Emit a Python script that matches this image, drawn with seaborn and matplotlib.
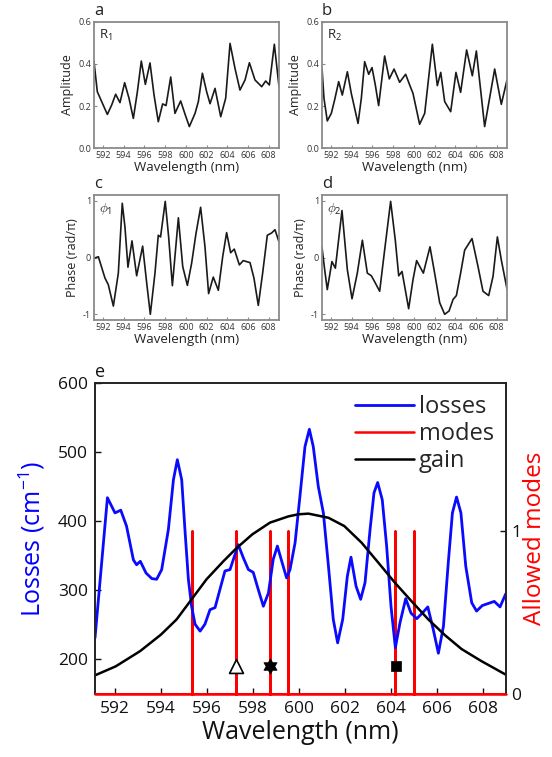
import numpy as np
import pandas as pd
import matplotlib
matplotlib.use("Agg")
import matplotlib.pyplot as plt
import seaborn as sns

# ---------------- data ----------------
r1_wl = [591.13, 591.45, 591.87, 592.42, 592.84, 593.22, 593.64, 594.09, 594.51, 594.93,
         595.32, 595.70, 596.09, 596.54, 596.93, 597.34, 597.76, 598.09, 598.54, 598.95,
         599.50, 599.95, 600.34, 600.89, 601.21, 601.60, 602.01, 602.34, 602.82, 603.37,
         603.85, 604.27, 604.75, 605.23, 605.72, 606.14, 606.68, 607.33, 607.71, 608.07,
         608.55, 609.00]
r1_amp = [0.411, 0.268, 0.221, 0.160, 0.205, 0.256, 0.216, 0.311, 0.237, 0.141,
          0.268, 0.414, 0.303, 0.405, 0.252, 0.125, 0.210, 0.202, 0.338, 0.165,
          0.224, 0.157, 0.102, 0.165, 0.221, 0.356, 0.268, 0.211, 0.284, 0.149,
          0.237, 0.498, 0.379, 0.276, 0.324, 0.406, 0.324, 0.292, 0.319, 0.300,
          0.494, 0.292]

r2_wl = [591.13, 591.32, 591.64, 592.03, 592.35, 592.74, 593.09, 593.58, 593.96, 594.61,
         594.93, 595.25, 595.64, 595.96, 596.28, 596.60, 597.18, 597.63, 598.09, 598.63,
         599.21, 599.60, 599.92, 600.56, 601.05, 601.79, 602.27, 602.60, 602.98, 603.56,
         604.07, 604.52, 605.10, 605.65, 606.04, 606.84, 607.81, 608.45, 609.00]
r2_amp = [0.379, 0.237, 0.129, 0.165, 0.229, 0.316, 0.252, 0.363, 0.260, 0.117,
          0.237, 0.411, 0.351, 0.383, 0.300, 0.202, 0.438, 0.329, 0.376, 0.313,
          0.351, 0.300, 0.260, 0.113, 0.165, 0.494, 0.297, 0.360, 0.221, 0.173,
          0.360, 0.265, 0.467, 0.344, 0.462, 0.102, 0.376, 0.208, 0.324]

p1_wl = [591.13, 591.55, 592.19, 592.51, 593.00, 593.48, 593.86, 594.12, 594.41, 594.80,
         595.25, 595.83, 596.22, 596.57, 597.02, 597.34, 597.56, 598.01, 598.34, 598.70,
         599.28, 599.70, 600.15, 600.56, 600.98, 601.43, 601.85, 602.20, 602.65, 603.14,
         603.56, 603.94, 604.33, 604.68, 605.17, 605.55, 606.20, 606.58, 607.00, 607.42,
         607.87, 608.29, 608.61, 609.00]
p1_ph = [-0.014, 0.014, -0.362, -0.478, -0.855, -0.275, 0.954, 0.536, -0.171, 0.293,
         -0.322, 0.200, -0.449, -1.000, -0.275, 0.391, 0.362, 0.988, 0.362, -0.496,
         0.699, -0.159, -0.490, -0.101, 0.420, 0.884, 0.188, -0.635, -0.345, -0.577,
         0.014, 0.438, 0.084, 0.148, -0.130, -0.055, -0.090, -0.362, -0.843, -0.275,
         0.391, 0.432, 0.490, 0.275]

p2_wl = [591.13, 591.39, 591.64, 592.09, 592.42, 593.06, 593.58, 594.03, 594.54, 595.03,
         595.51, 595.90, 596.28, 596.70, 597.18, 597.76, 598.21, 598.54, 598.86, 599.50,
         599.92, 600.27, 600.92, 601.56, 602.01, 602.50, 602.98, 603.40, 603.79, 604.11,
         604.52, 604.91, 605.62, 606.20, 606.68, 607.23, 607.65, 608.07, 608.45, 609.00]
p2_ph = [0.177, -0.217, -0.565, -0.072, -0.188, 0.826, -0.217, -0.727, -0.275, 0.304,
         -0.275, -0.322, -0.449, -0.594, 0.130, 0.988, 0.304, -0.322, -0.246, -0.901,
         -0.391, -0.055, -0.275, 0.188, -0.275, -0.797, -1.000, -0.942, -0.739, -0.670,
         -0.275, 0.130, 0.333, -0.159, -0.594, -0.670, -0.333, 0.362, -0.043, -0.553]

loss_wl = [591.13, 591.67, 592.00, 592.25, 592.50, 592.80, 592.94, 593.10, 593.35, 593.60,
           593.81, 594.03, 594.32, 594.54, 594.71, 594.90, 595.04, 595.19, 595.33, 595.48,
           595.70, 595.91, 596.13, 596.35, 596.56, 596.78, 597.00, 597.19, 597.36, 597.58,
           597.80, 598.01, 598.23, 598.45, 598.67, 598.88, 599.06, 599.25, 599.46, 599.61,
           599.83, 600.04, 600.26, 600.45, 600.62, 600.84, 601.06, 601.28, 601.49, 601.68,
           601.90, 602.10, 602.26, 602.48, 602.68, 602.87, 603.09, 603.26, 603.42, 603.62,
           603.81, 604.00, 604.19, 604.39, 604.64, 604.87, 605.12, 605.36, 605.60, 605.84,
           606.06, 606.28, 606.49, 606.67, 606.85, 607.04, 607.25, 607.51, 607.72, 607.97,
           608.23, 608.49, 608.74, 608.99]
loss_val = [231, 434, 412, 416, 393, 344, 337, 342, 325, 317,
            316, 330, 388, 460, 489, 460, 388, 316, 277, 251,
            241, 251, 272, 275, 301, 328, 330, 349, 366, 347,
            330, 326, 301, 277, 296, 345, 364, 342, 318, 330,
            369, 436, 508, 533, 508, 450, 412, 335, 258, 224,
            258, 320, 348, 306, 287, 311, 388, 441, 456, 431,
            364, 277, 217, 253, 288, 267, 259, 267, 276, 243,
            209, 248, 340, 412, 435, 412, 335, 282, 270, 278,
            281, 284, 276, 295]

gain_wl = [591.13, 592.03, 593.09, 594.00, 594.68, 595.33, 595.98, 596.71, 597.25, 597.97,
           598.74, 599.54, 599.97, 600.41, 601.28, 601.97, 602.72, 603.45, 604.17, 604.90,
           605.62, 606.35, 607.07, 607.91, 608.99]
gain_val = [177, 190, 212, 236, 258, 287, 316, 342, 360, 381,
            398, 407, 410, 411, 405, 393, 369, 340, 311, 284,
            258, 235, 215, 198, 178]

mode_wl = [595.33, 597.26, 598.74, 599.54, 604.19, 604.99]

marker_wl = [597.26, 598.74, 604.22]
marker_val = [191, 191, 191]

xticks = [592, 594, 596, 598, 600, 602, 604, 606, 608]
XLIM = (591.13, 609.0)

# ---------------- style ----------------
sns.set_style("ticks")
plt.rcParams['font.family'] = ['Open Sans', 'DejaVu Sans']
plt.rcParams['mathtext.fontset'] = 'custom'
plt.rcParams['mathtext.rm'] = 'Open Sans'
plt.rcParams['mathtext.it'] = 'Open Sans'

W, H = 552, 757
fig = plt.figure(figsize=(W / 100, H / 100), dpi=100)


def frac(x0, y0, x1, y1):
    return [x0 / W, 1 - y1 / H, (x1 - x0) / W, (y1 - y0) / H]


gray = '#8a8a8a'


def small_panel(rect, wl, vals, letter, tag, ylabel, ylim, yticks, yticklabels):
    ax = fig.add_axes(frac(*rect))
    sns.lineplot(x=wl, y=vals, ax=ax, color='#1a1a1a', lw=1.2, sort=False, estimator=None)
    ax.set_xlim(*XLIM)
    ax.set_ylim(*ylim)
    ax.set_xticks(xticks)
    ax.set_yticks(yticks)
    ax.set_yticklabels(yticklabels)
    for s in ax.spines.values():
        s.set_color(gray)
        s.set_linewidth(1.3)
    ax.tick_params(direction='in', length=2, width=0.8, color=gray,
                   labelsize=6.5, labelcolor='#333333', pad=2)
    ax.set_xlabel('Wavelength (nm)', fontsize=9.5, color='#222222', labelpad=1)
    ax.set_ylabel(ylabel, fontsize=9, color='#222222', labelpad=3)
    ax.text(0.0, 1.02, letter, transform=ax.transAxes, fontsize=12,
            ha='left', va='bottom', color='#222222')
    ax.text(0.025, 0.95, tag, transform=ax.transAxes, fontsize=9.5,
            ha='left', va='top', color='#222222')
    return ax


small_panel((94, 22, 279, 148), r1_wl, r1_amp, 'a', r'R$_1$', 'Amplitude',
            (0, 0.6), [0, 0.2, 0.4, 0.6], ['0.0', '0.2', '0.4', '0.6'])
small_panel((322, 22, 507, 148), r2_wl, r2_amp, 'b', r'R$_2$', 'Amplitude',
            (0, 0.6), [0, 0.2, 0.4, 0.6], ['0.0', '0.2', '0.4', '0.6'])
small_panel((94, 195, 279, 320), p1_wl, p1_ph, 'c', r'$\phi_1$', 'Phase (rad/\u03c0)',
            (-1.1, 1.1), [-1, 0, 1], ['-1', '0', '1'])
small_panel((322, 195, 507, 320), p2_wl, p2_ph, 'd', r'$\phi_2$', 'Phase (rad/\u03c0)',
            (-1.1, 1.1), [-1, 0, 1], ['-1', '0', '1'])

# ---------------- panel e ----------------
ax = fig.add_axes(frac(95, 383, 506, 694))
ax2 = ax.twinx()
ax.set_zorder(ax2.get_zorder() + 1)
ax.patch.set_visible(False)

sns.lineplot(x=loss_wl, y=loss_val, ax=ax, color='#0a0aff', lw=2.0, sort=False,
             estimator=None, label='losses', legend=False)
sns.lineplot(x=gain_wl, y=gain_val, ax=ax, color='black', lw=1.8, sort=False,
             estimator=None, label='gain', legend=False)

# modes: zero baseline with unit spikes at each allowed mode
step_x = [XLIM[0]]
step_y = [0]
for m in mode_wl:
    step_x += [m, m, m]
    step_y += [0, 1, 0]
step_x.append(XLIM[1])
step_y.append(0)
modes_df = pd.DataFrame({'x': step_x, 'y': step_y})
sns.lineplot(data=modes_df, x='x', y='y', ax=ax2, color='#ff0000', lw=1.8, sort=False,
             estimator=None, label='modes', legend=False, clip_on=False)

# six-pointed star (hexagram) marker shape
ang_o = np.deg2rad(90 + 60 * np.arange(6))
ang_i = ang_o + np.deg2rad(30)
hex_verts = []
for ao, ai in zip(ang_o, ang_i):
    hex_verts.append((np.cos(ao), np.sin(ao)))
    hex_verts.append((0.577 * np.cos(ai), 0.577 * np.sin(ai)))
hex_verts.append(hex_verts[0])

sns.scatterplot(x=[marker_wl[0]], y=[marker_val[0]], ax=ax, marker='^', s=100,
                facecolor='white', edgecolor='black', linewidth=1.2, zorder=5, legend=False)
sns.scatterplot(x=[marker_wl[1]], y=[marker_val[1]], ax=ax, marker=hex_verts, s=120,
                color='black', edgecolor='black', linewidth=0.5, zorder=5, legend=False)
sns.scatterplot(x=[marker_wl[2]], y=[marker_val[2]], ax=ax, marker='s', s=60,
                color='black', edgecolor='black', linewidth=0.5, zorder=5, legend=False)

ax.set_xlim(*XLIM)
ax.set_ylim(150, 600)
ax2.set_ylim(0, 1.908)
ax.set_xticks(xticks)
ax.set_yticks([200, 300, 400, 500, 600])
ax2.set_yticks([0, 1])
ax2.set_yticklabels(['0', '1'])
for a in (ax, ax2):
    for s in a.spines.values():
        s.set_color('#222222')
        s.set_linewidth(1.2)
    a.spines['bottom'].set_color('#ff0000')
ax.tick_params(direction='in', length=4, width=1, labelsize=12.5, pad=5, colors='#111111')
ax2.tick_params(direction='in', length=4, width=1, labelsize=12.5, pad=4, colors='#111111')
ax.set_xlabel('Wavelength (nm)', fontsize=18, color='#111111', labelpad=2)
ax.set_ylabel('Losses (cm$^{-1}$)', fontsize=18, color='#0000ff', labelpad=8)
ax2.set_ylabel('Allowed modes', fontsize=17.5, color='#ff0000', labelpad=1)
ax.text(0.0, 1.005, 'e', transform=ax.transAxes, fontsize=13, ha='left', va='bottom',
        color='#111111')

h1, l1 = ax.get_legend_handles_labels()
h2, l2 = ax2.get_legend_handles_labels()
hd = dict(zip(l1 + l2, h1 + h2))
order = ['losses', 'modes', 'gain']
ax.legend([hd[k] for k in order], order, loc='upper right', frameon=False,
          fontsize=17, handlelength=2.5, handletextpad=0.2, labelspacing=0.13,
          borderaxespad=0.1)

fig.savefig('out.png', dpi=100)
